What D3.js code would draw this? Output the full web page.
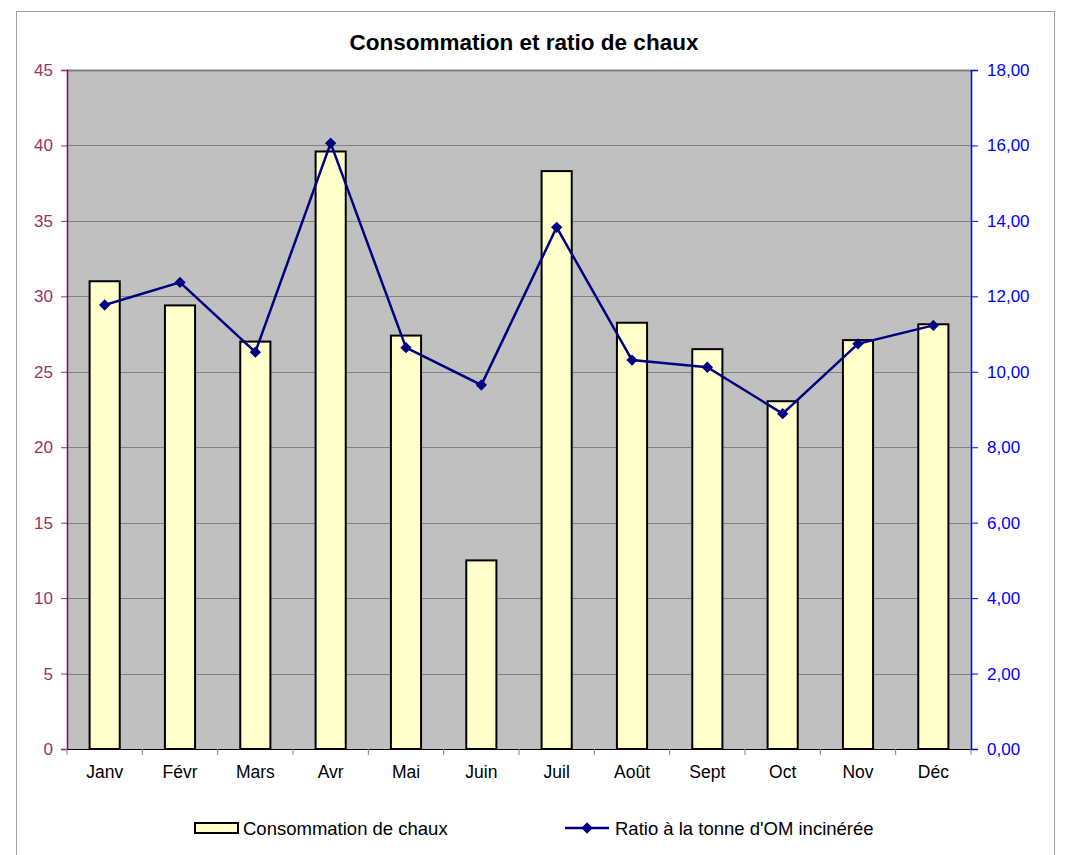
<!DOCTYPE html>
<html>
<head>
<meta charset="utf-8">
<script src="https://cdn.jsdelivr.net/npm/d3@7"></script>
<style>
  body { margin: 0; background: #fff; }
  text { font-family: "Liberation Sans", Arial, sans-serif; }
</style>
</head>
<body>
<script>
// data
var months = ["Janv","Févr","Mars","Avr","Mai","Juin","Juil","Août","Sept","Oct","Nov","Déc"];
var conso = [31.0, 29.4, 27.0, 39.6, 27.4, 12.5, 38.3, 28.25, 26.5, 23.05, 27.1, 28.15];
var ratio = [11.77, 12.37, 10.52, 16.06, 10.64, 9.65, 13.83, 10.31, 10.12, 8.89, 10.74, 11.23];
var leftTicks = [0,5,10,15,20,25,30,35,40,45];
var rightTicks = [0,2,4,6,8,10,12,14,16,18];

function main() {
  document.body.innerHTML = '<svg width="1066" height="855"></svg>';
  var svg = d3.select("svg");
  var left = 67, right = 971, top = 70, bottom = 749;

  // outer chart border
  svg.append("rect").attr("x", 16.5).attr("y", 11.5).attr("width", 1038).attr("height", 860)
     .attr("fill", "#fff").attr("stroke", "#a0a0a0").attr("stroke-width", 1);

  var x = d3.scaleBand().domain(months).range([left, right]).paddingInner(0.6).paddingOuter(0.3);
  var xb = d3.scaleBand().domain(months).range([left, right]);
  var y = d3.scaleLinear().domain([0, 45]).range([bottom, top]);
  var y2 = d3.scaleLinear().domain([0, 18]).range([bottom, top]);

  // plot area
  svg.append("rect").attr("x", left).attr("y", top).attr("width", right - left).attr("height", bottom - top)
     .attr("fill", "#c0c0c0");

  // gridlines
  svg.append("g").selectAll("line").data(leftTicks.slice(1)).enter().append("line")
     .attr("x1", left).attr("x2", right)
     .attr("y1", function(d){ return Math.round(y(d)) + 0.5; })
     .attr("y2", function(d){ return Math.round(y(d)) + 0.5; })
     .attr("stroke", "#808080").attr("stroke-width", 1);
  svg.append("line").attr("x1", left).attr("x2", right).attr("y1", top + 0.5).attr("y2", top + 0.5)
     .attr("stroke", "#808080").attr("stroke-width", 2);

  // bars
  svg.append("g").selectAll("rect").data(conso).enter().append("rect")
     .attr("x", function(d, i){ return x(months[i]); })
     .attr("width", x.bandwidth())
     .attr("y", function(d){ return y(d); })
     .attr("height", function(d){ return bottom - y(d); })
     .attr("fill", "#ffffcc").attr("stroke", "#000").attr("stroke-width", 2);

  // left axis
  var ga = svg.append("g").attr("transform", "translate(" + left + ",0)")
     .call(d3.axisLeft(y).tickValues(leftTicks).tickSize(6).tickPadding(8).tickFormat(d3.format("d")));
  ga.select(".domain").attr("stroke", "#800080").attr("stroke-width", 1.5);
  ga.selectAll(".tick line").attr("stroke", "#993366");
  ga.selectAll("text").attr("fill", "#993366").style("font-size", "17px").style("font-family", "Liberation Sans, Arial");

  // right axis
  var gr = svg.append("g").attr("transform", "translate(" + right + ",0)")
     .call(d3.axisRight(y2).tickValues(rightTicks).tickSize(7).tickPadding(9)
       .tickFormat(function(d){ return d3.format(".2f")(d).replace(".", ","); }));
  gr.select(".domain").attr("stroke", "#0000ff").attr("stroke-width", 1.5);
  gr.selectAll(".tick line").attr("stroke", "#0000ff");
  gr.selectAll("text").attr("fill", "#0000ff").style("font-size", "17px").style("font-family", "Liberation Sans, Arial");

  // bottom axis
  var gx = svg.append("g").attr("transform", "translate(0," + bottom + ")")
     .call(d3.axisBottom(xb).tickSize(0).tickPadding(17));
  gx.select(".domain").attr("stroke", "#000").attr("stroke-width", 1);
  gx.selectAll("text").attr("fill", "#000").style("font-size", "17.5px").style("font-family", "Liberation Sans, Arial");
  svg.append("g").selectAll("line").data(months.concat(["end"])).enter().append("line")
     .attr("x1", function(d){ return d === "end" ? right : xb(d); })
     .attr("x2", function(d){ return d === "end" ? right : xb(d); })
     .attr("y1", bottom).attr("y2", bottom + 6)
     .attr("stroke", "#808080");

  // line
  var line = d3.line()
     .x(function(d, i){ return xb(months[i]) + xb.bandwidth() / 2; })
     .y(function(d){ return y2(d); });
  svg.append("path").datum(ratio).attr("d", line)
     .attr("fill", "none").attr("stroke", "#000080").attr("stroke-width", 2.5);
  var diamond = d3.symbol().type(d3.symbolSquare).size(64);
  svg.append("g").selectAll("path").data(ratio).enter().append("path")
     .attr("d", diamond)
     .attr("transform", function(d, i){ return "translate(" + (xb(months[i]) + xb.bandwidth() / 2) + "," + y2(d) + ") rotate(45)"; })
     .attr("fill", "#000080");

  // title
  svg.append("text").attr("x", 524).attr("y", 50).attr("text-anchor", "middle")
     .style("font-size", "22.5px").style("font-weight", "bold").attr("fill", "#000")
     .text("Consommation et ratio de chaux");

  // legend
  var lg = svg.append("g");
  lg.append("rect").attr("x", 195).attr("y", 823).attr("width", 43).attr("height", 10)
     .attr("fill", "#ffffcc").attr("stroke", "#000").attr("stroke-width", 2);
  lg.append("text").attr("x", 243).attr("y", 835).style("font-size", "18.5px").attr("fill", "#000")
     .text("Consommation de chaux");
  lg.append("line").attr("x1", 565).attr("x2", 609).attr("y1", 828).attr("y2", 828)
     .attr("stroke", "#000080").attr("stroke-width", 2.5);
  lg.append("path").attr("d", diamond).attr("transform", "translate(587,828) rotate(45)").attr("fill", "#000080");
  lg.append("text").attr("x", 615).attr("y", 835).style("font-size", "18.5px").attr("fill", "#000")
     .text("Ratio à la tonne d'OM incinérée");
}
main();
</script>
</body>
</html>
